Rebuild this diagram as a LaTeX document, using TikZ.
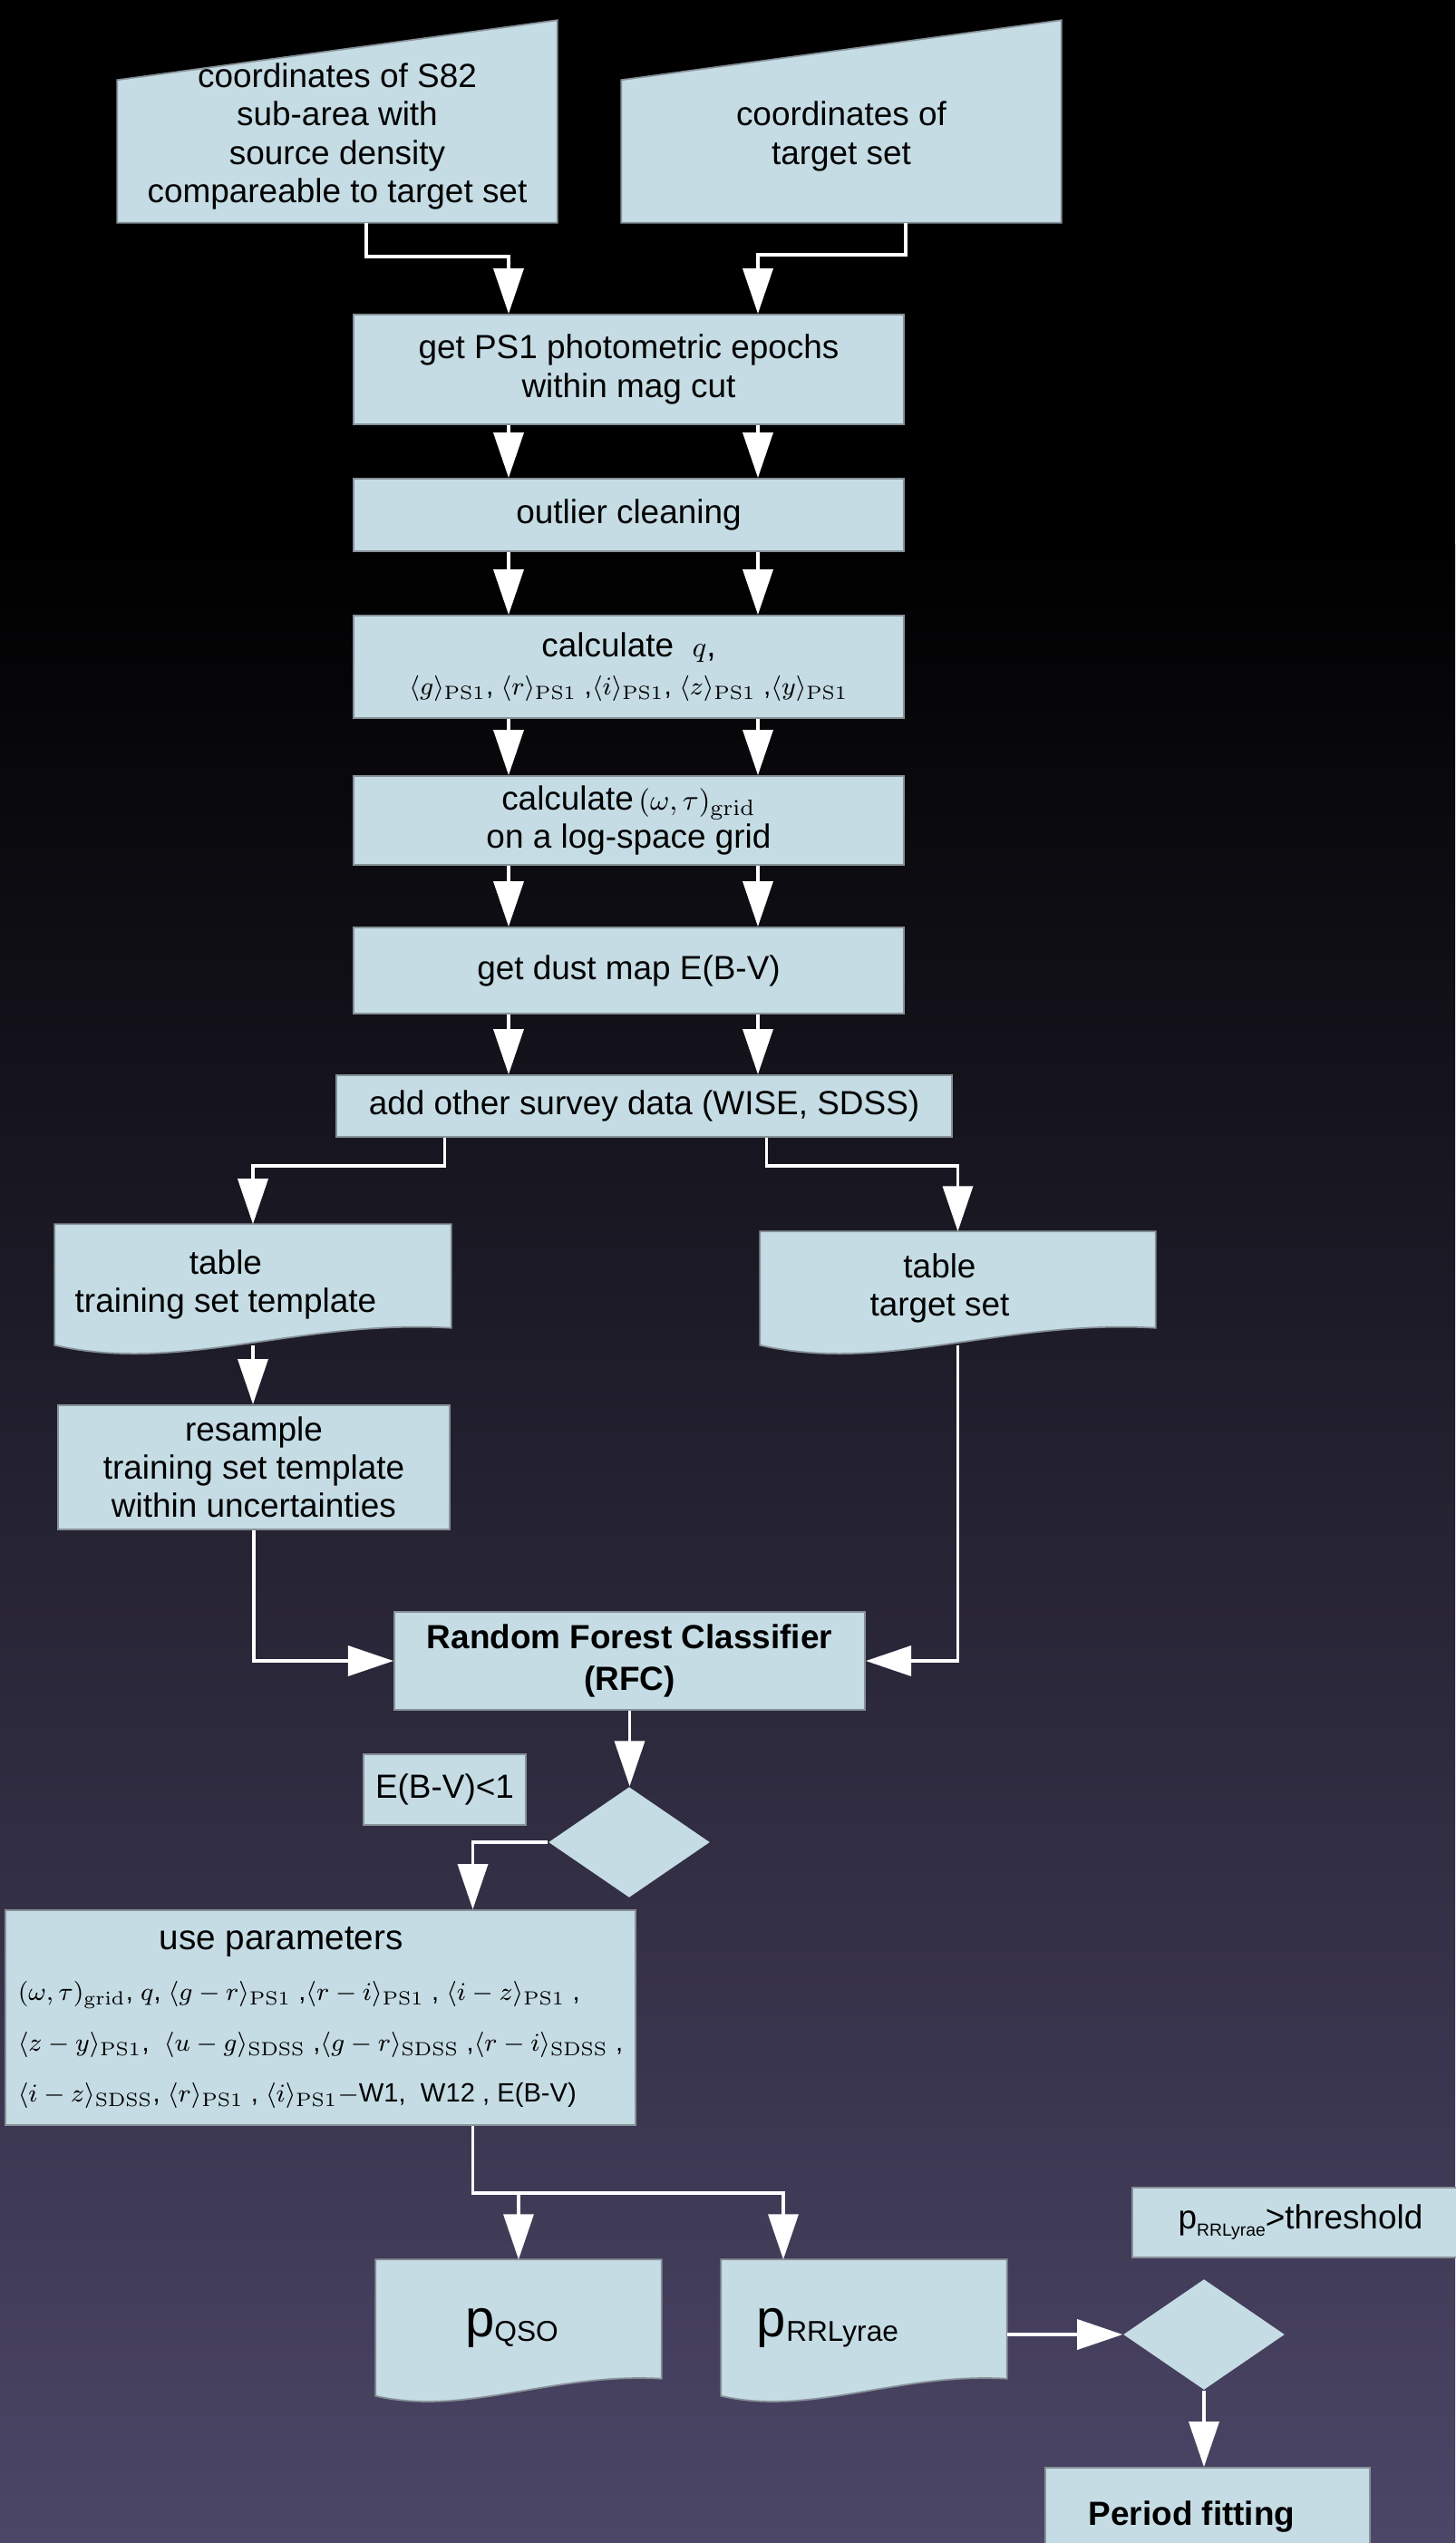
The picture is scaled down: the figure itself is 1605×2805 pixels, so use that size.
\documentclass[tikz,border=0pt]{standalone}
\usepackage[no-math]{fontspec}
\setmainfont{Liberation Sans}
\usepackage{tikz}
\usetikzlibrary{shapes,positioning,calc,arrows.meta}
\usepackage{amsmath}

\definecolor{boxfill}{RGB}{197,220,228}
\definecolor{boxline}{RGB}{135,145,152}
\definecolor{bgbot}{RGB}{76,70,103}
\pgfdeclarelayer{bg}
\pgfsetlayers{bg,main}

\begin{document}
\begin{tikzpicture}[x=0.01cm, y=-0.01cm,
    font=\fontsize{10.5}{12}\selectfont,
    stepbox/.style={draw=boxline, line width=0.5pt, fill=boxfill, inner sep=0pt, align=center},
    textarea/.style={inner sep=0pt, align=center},
    decision/.style={diamond, fill=boxfill, inner sep=0pt, minimum width=1.78cm, minimum height=1.22cm},
    flowline/.style={draw=white, line width=1pt, -{Triangle[length=0.5cm, width=0.33cm]}}]
    \useasboundingbox (0,0) rectangle (1605,2805);

    % Background
    \begin{pgfonlayer}{bg}
    \fill[black] (0,0) rectangle (1605,601);
    \shade[top color=black, bottom color=bgbot] (0,600) rectangle (1605,2805);
    \end{pgfonlayer}

    % Inputs
    \node[textarea, minimum width=4.84cm, minimum height=1.89cm] (in1) at (372,150.5) {coordinates of S82\\sub-area with\\source density\\compareable to target set};
    \node[textarea, minimum width=4.84cm, minimum height=1.89cm] (in2) at (928,150.5) {coordinates of\\target set};

    % Main stack
    \node[stepbox, minimum width=6.07cm, minimum height=1.21cm] (b1) at (693.5,407.5) {get PS1 photometric epochs\\within mag cut};
    \node[stepbox, minimum width=6.07cm, minimum height=0.8cm] (b2) at (693.5,568) {outlier cleaning};
    \node[stepbox, minimum width=6.07cm, minimum height=1.13cm] (b3) at (693.5,735.5) {calculate \ {\fontsize{9.5}{12}\selectfont$q$},\\
        {\fontsize{8.5}{12}\selectfont$\langle g\rangle_{\mathrm{PS1}}$, $\langle r\rangle_{\mathrm{PS1}}$ ,$\langle i\rangle_{\mathrm{PS1}}$, $\langle z\rangle_{\mathrm{PS1}}$ ,$\langle y\rangle_{\mathrm{PS1}}$}};
    \node[stepbox, minimum width=6.07cm, minimum height=0.98cm] (b4) at (693.5,905) {calculate{\fontsize{9.5}{12}\selectfont$\,(\omega,\tau)_{\mathrm{grid}}$}\\on a log-space grid};
    \node[stepbox, minimum width=6.07cm, minimum height=0.95cm] (b5) at (693.5,1070.5) {get dust map E(B-V)};
    \node[stepbox, minimum width=6.79cm, minimum height=0.68cm] (b6) at (710.5,1220) {add other survey data (WISE, SDSS)};

    % Tables
    \node[textarea, minimum width=4.36cm, minimum height=1.32cm] (tt) at (279,1417) {table\hspace*{0.6cm}\\training set template\hspace*{0.6cm}};
    \node[textarea, minimum width=4.35cm, minimum height=1.24cm] (tg) at (1056.5,1421) {table\hspace*{0.4cm}\\target set\hspace*{0.4cm}};
    \node[stepbox, minimum width=4.32cm, minimum height=1.37cm] (rs) at (280,1618.5) {resample\\training set template\\within uncertainties};
    \node[stepbox, minimum width=5.19cm, minimum height=1.08cm, font=\fontsize{10.5}{13}\selectfont\bfseries] (rfc) at (694.5,1832) {Random Forest Classifier\\(RFC)};

    % Colour cut
    \node[stepbox, minimum width=1.79cm, minimum height=0.78cm] (cond) at (490.5,1974) {E(B-V)<1};
    \node[decision] (d1) at (694,2032) {};
    \node[stepbox, minimum width=6.95cm, minimum height=2.37cm, align=left, font=\fontsize{8.3}{16}\selectfont] (par) at (353.5,2225.5) {\hspace*{1.56cm}{\fontsize{11}{12}\selectfont use parameters}\\
        $(\omega,\tau)_{\mathrm{grid}}$, $q$, $\langle g-r\rangle_{\mathrm{PS1}}$ ,$\langle r-i\rangle_{\mathrm{PS1}}$ , $\langle i-z\rangle_{\mathrm{PS1}}$ ,\\
        $\langle z-y\rangle_{\mathrm{PS1}}$,\ \ $\langle u-g\rangle_{\mathrm{SDSS}}$ ,$\langle g-r\rangle_{\mathrm{SDSS}}$ ,$\langle r-i\rangle_{\mathrm{SDSS}}$ ,\\
        $\langle i-z\rangle_{\mathrm{SDSS}}$, $\langle r\rangle_{\mathrm{PS1}}$ , $\langle i\rangle_{\mathrm{PS1}}-$W1,\ \ W12 , E(B-V)};

    % Outputs
    \node[textarea, minimum width=3.14cm, minimum height=1.49cm] (pq) at (572,2567.5) {{\fontsize{16.5}{18}\selectfont p}\raisebox{-0.05cm}{\fontsize{9}{10}\selectfont QSO}\hspace*{0.15cm}};
    \node[textarea, minimum width=3.14cm, minimum height=1.49cm] (pr) at (953,2567.5) {{\fontsize{16.5}{18}\selectfont p}\raisebox{-0.05cm}{\fontsize{9}{10}\selectfont RRLyrae}\hspace*{0.8cm}};
    \node[stepbox, minimum width=3.71cm, minimum height=0.77cm] (thr) at (1434.5,2451.5) {p\raisebox{-0.08cm}{\fontsize{5.5}{6}\selectfont RRLyrae}>threshold};
    \node[decision] (d2) at (1328,2575) {};
    \node[stepbox, minimum width=3.58cm, minimum height=1.08cm, font=\fontsize{10.5}{12}\selectfont\bfseries] (pf) at (1332,2776) {Period fitting\hspace*{0.35cm}};

    % Shapes of inputs and documents
    \begin{pgfonlayer}{bg}
    \foreach \n in {in1,in2}
        \draw[draw=boxline, line width=0.5pt, fill=boxfill] (\n.south west) -- (\n.south east) -- ($(\n.north east)+(0,-33)$) -- ($(\n.north west)+(0,33)$) -- cycle;
    \foreach \n/\s in {tt/1,tg/1,pq/0.72,pr/0.72}
        \draw[draw=boxline, line width=0.5pt, fill=boxfill] (\n.south west) -- (\n.north west) -- (\n.north east) -- ($(\n.south east)+(0,-19)$) .. controls +(-167*\s,-10*\s) and +(139*\s,32*\s) .. (\n.south west) -- cycle;
    \end{pgfonlayer}

    % Arrows
    \coordinate (colL) at (561,0);
    \coordinate (colR) at (836,0);
    \draw[flowline] ($(in1.south)+(32,0)$) -- ++(0,37) -| (b1.north -| colL);
    \draw[flowline] ($(in2.south)+(71,0)$) -- ++(0,35) -| (b1.north -| colR);

    \foreach \a/\b in {b1/b2,b2/b3,b3/b4,b4/b5,b5/b6}
        \foreach \c in {colL,colR}
            \draw[flowline] (\a.south -| \c) -- (\b.north -| \c);

    \draw[flowline] ($(b6.south)+(-220,0)$) -- ++(0,31) -| (tt.north);
    \draw[flowline] ($(b6.south)+(135,0)$) -- ++(0,31) -| (tg.north);
    \draw[flowline] (tt.south) -- (tt.south |- rs.north);
    \draw[flowline] (rs.south) |- (rfc.west);
    \draw[flowline] (tg.south) |- (rfc.east);
    \draw[flowline] (rfc.south) -- (rfc.south |- d1.north);
    \draw[flowline] (d1.west) -| ($(par.north)+(168,0)$);
    \draw[flowline] ($(par.south)+(168,0)$) -- ++(0,74) -| (pq.north);
    \draw[flowline] ($(par.south)+(168,0)$) -- ++(0,74) -| ($(pr.north)+(-89,0)$);
    \draw[flowline] (pr.east |- d2.west) -- (d2.west);
    \draw[flowline] (d2.south) -- (d2.south |- pf.north);
\end{tikzpicture}
\end{document}
